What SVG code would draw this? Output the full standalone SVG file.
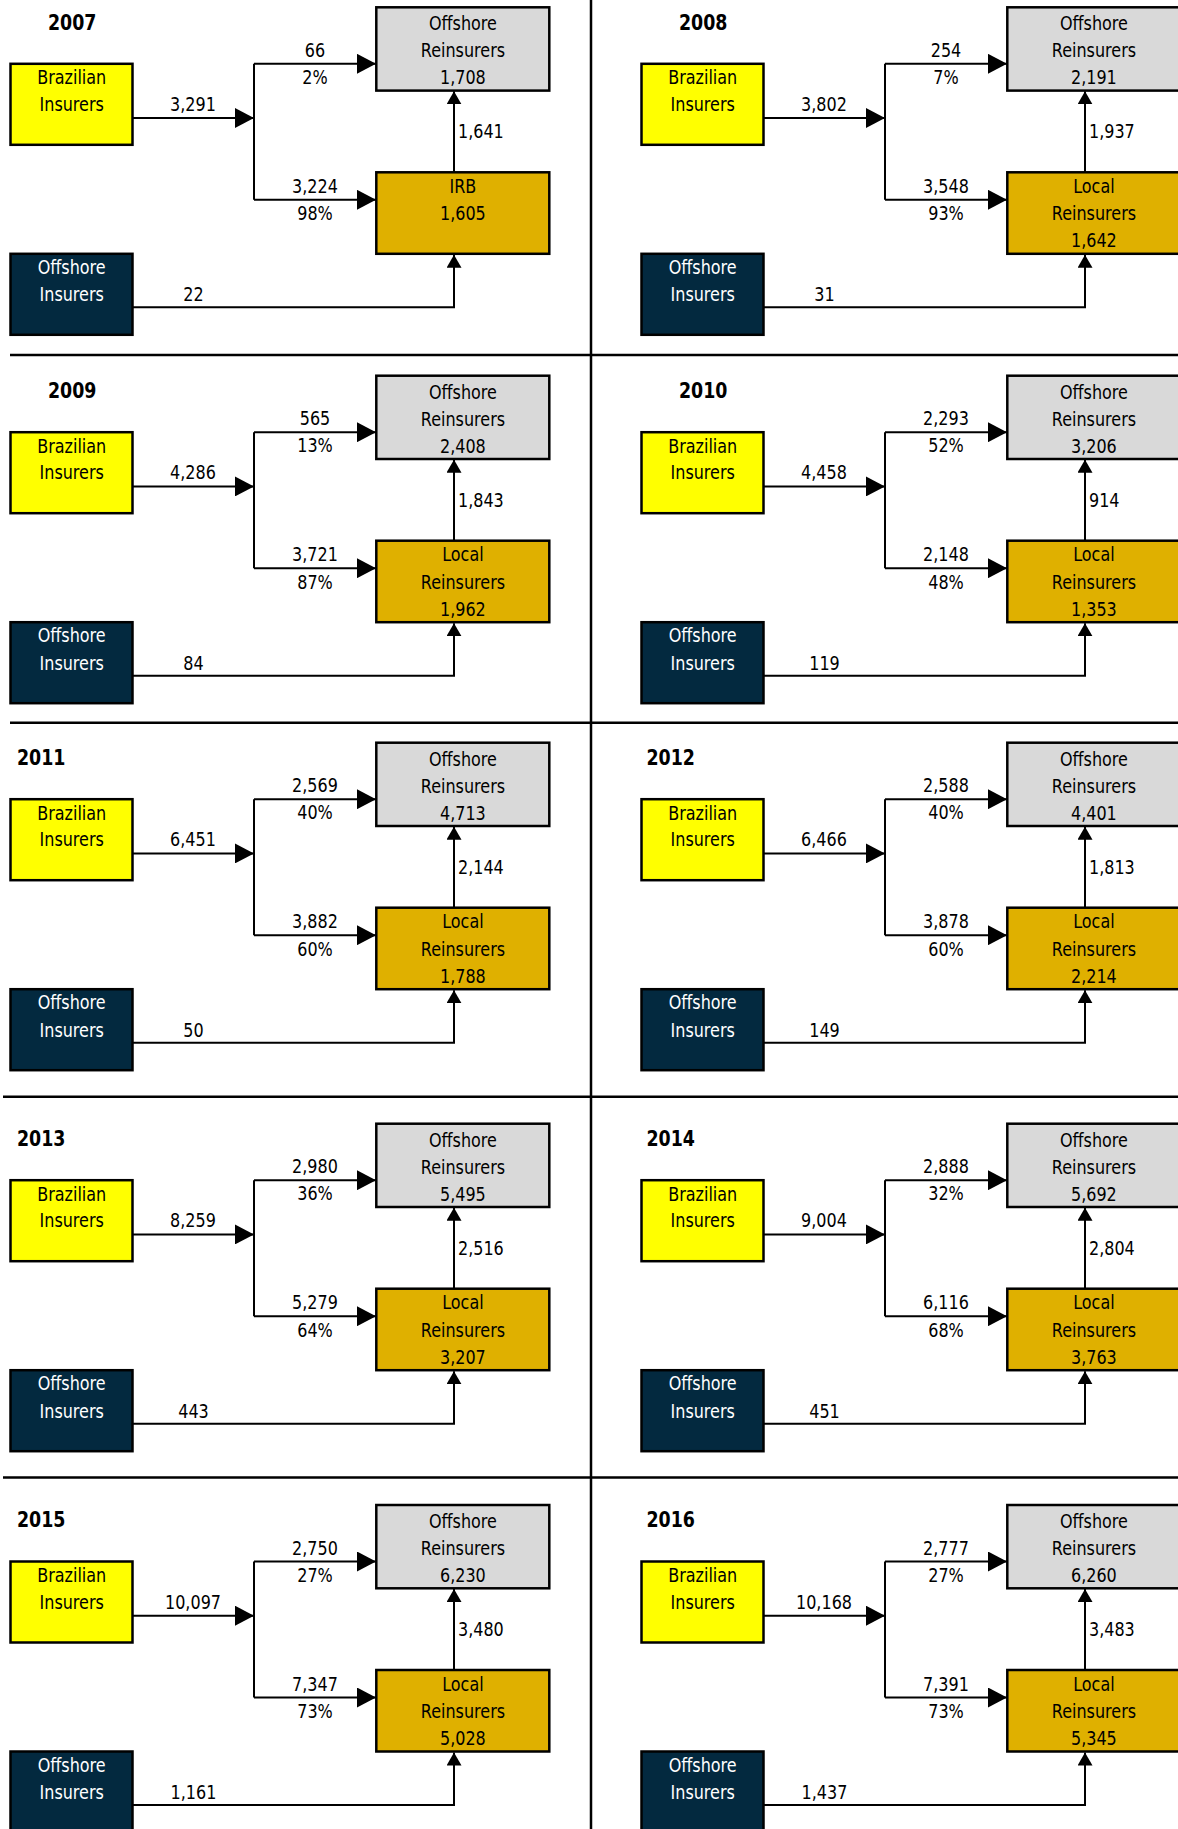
<svg xmlns="http://www.w3.org/2000/svg" width="1178" height="1829" viewBox="0 0 1178 1829">
<style>
.bg{fill:#ffffff}
.box{stroke:#000;stroke-width:2.5}
.br{fill:#ffff00}
.oi{fill:#03293f}
.or{fill:#d9d9d9}
.lr{fill:#dfb000}
.t{font-family:"DejaVu Sans","Liberation Sans",sans-serif;font-size:20px;text-anchor:middle;fill:#000}
.tl{font-family:"DejaVu Sans","Liberation Sans",sans-serif;font-size:20px;text-anchor:start;fill:#000}
.w{fill:#ffffff}
.yr{font-family:"DejaVu Sans","Liberation Sans",sans-serif;font-size:20.5px;font-weight:bold;fill:#000}
.ln{fill:none;stroke:#000;stroke-width:2}
.sep{stroke:#000;stroke-width:2.5;fill:none}
</style>
<defs>
<marker id="ah" markerUnits="userSpaceOnUse" viewBox="0 0 19 20" refX="19" refY="10" markerWidth="19" markerHeight="20" orient="auto"><path d="M0,0 L19,10 L0,20 z" fill="#000"/></marker>
<marker id="as" markerUnits="userSpaceOnUse" viewBox="0 0 13 15" refX="13" refY="7.5" markerWidth="13" markerHeight="15" orient="auto"><path d="M0,0 L13,7.5 L0,15 z" fill="#000"/></marker>
</defs>
<rect class="bg" x="0" y="0" width="1178" height="1829"/>
<g id="frame">
<path class="sep" d="M591,0 V1829"/>
<path class="sep" d="M10,355 H1178"/>
<path class="sep" d="M10,722.7 H1178"/>
<path class="sep" d="M3,1096.7 H1178"/>
<path class="sep" d="M3,1477.5 H1178"/>
</g>

<!-- 2007 -->
<g id="panel-2007" transform="translate(0,7.3)">
<text class="yr" transform="translate(48,22.5) scale(0.85,1)">2007</text>
<g id="n2007-brazilian"><rect class="box br" x="10.5" y="56.5" width="122" height="81"/><text class="t" transform="translate(71.7,77) scale(0.8,1)">Brazilian</text><text class="t" transform="translate(71.7,103.5) scale(0.8,1)">Insurers</text></g>
<g id="n2007-offins"><rect class="box oi" x="10.5" y="246.5" width="122" height="81"/><text class="t w" transform="translate(71.7,266.5) scale(0.8,1)">Offshore</text><text class="t w" transform="translate(71.7,294) scale(0.8,1)">Insurers</text></g>
<g id="n2007-offre"><rect class="box or" x="376.3" y="0" width="173" height="83.3"/><text class="t" transform="translate(462.9,23) scale(0.8,1)">Offshore</text><text class="t" transform="translate(462.9,50) scale(0.8,1)">Reinsurers</text><text class="t" transform="translate(462.9,77) scale(0.8,1)">1,708</text></g>
<g id="n2007-local"><rect class="box lr" x="376.3" y="165" width="173" height="81.5"/><text class="t" transform="translate(462.9,186) scale(0.8,1)">IRB</text><text class="t" transform="translate(462.9,213) scale(0.8,1)">1,605</text></g>
<g id="c2007">
<path class="ln" d="M132.5,110.7 H254" marker-end="url(#ah)"/>
<path class="ln" d="M254,56.5 V192.5"/>
<path class="ln" d="M254,56.5 H376" marker-end="url(#ah)"/>
<path class="ln" d="M254,192.5 H376" marker-end="url(#ah)"/>
<path class="ln" d="M454,165 V84" marker-end="url(#as)"/>
<path class="ln" d="M132.5,300 H454 V247.5" marker-end="url(#as)"/>
<text class="t" transform="translate(193,103.5) scale(0.8,1)">3,291</text>
<text class="t" transform="translate(315,49.5) scale(0.8,1)">66</text>
<text class="t" transform="translate(315,76.5) scale(0.8,1)">2%</text>
<text class="tl" transform="translate(458,131) scale(0.8,1)">1,641</text>
<text class="t" transform="translate(315,185.5) scale(0.8,1)">3,224</text>
<text class="t" transform="translate(315,213) scale(0.8,1)">98%</text>
<text class="t" transform="translate(193.5,294) scale(0.8,1)">22</text>
</g>
</g>

<!-- 2008 -->
<g id="panel-2008" transform="translate(631,7.3)">
<text class="yr" transform="translate(48,22.5) scale(0.85,1)">2008</text>
<g id="n2008-brazilian"><rect class="box br" x="10.5" y="56.5" width="122" height="81"/><text class="t" transform="translate(71.7,77) scale(0.8,1)">Brazilian</text><text class="t" transform="translate(71.7,103.5) scale(0.8,1)">Insurers</text></g>
<g id="n2008-offins"><rect class="box oi" x="10.5" y="246.5" width="122" height="81"/><text class="t w" transform="translate(71.7,266.5) scale(0.8,1)">Offshore</text><text class="t w" transform="translate(71.7,294) scale(0.8,1)">Insurers</text></g>
<g id="n2008-offre"><rect class="box or" x="376.3" y="0" width="173" height="83.3"/><text class="t" transform="translate(462.9,23) scale(0.8,1)">Offshore</text><text class="t" transform="translate(462.9,50) scale(0.8,1)">Reinsurers</text><text class="t" transform="translate(462.9,77) scale(0.8,1)">2,191</text></g>
<g id="n2008-local"><rect class="box lr" x="376.3" y="165" width="173" height="81.5"/><text class="t" transform="translate(462.9,185.5) scale(0.8,1)">Local</text><text class="t" transform="translate(462.9,213) scale(0.8,1)">Reinsurers</text><text class="t" transform="translate(462.9,240) scale(0.8,1)">1,642</text></g>
<g id="c2008">
<path class="ln" d="M132.5,110.7 H254" marker-end="url(#ah)"/>
<path class="ln" d="M254,56.5 V192.5"/>
<path class="ln" d="M254,56.5 H376" marker-end="url(#ah)"/>
<path class="ln" d="M254,192.5 H376" marker-end="url(#ah)"/>
<path class="ln" d="M454,165 V84" marker-end="url(#as)"/>
<path class="ln" d="M132.5,300 H454 V247.5" marker-end="url(#as)"/>
<text class="t" transform="translate(193,103.5) scale(0.8,1)">3,802</text>
<text class="t" transform="translate(315,49.5) scale(0.8,1)">254</text>
<text class="t" transform="translate(315,76.5) scale(0.8,1)">7%</text>
<text class="tl" transform="translate(458,131) scale(0.8,1)">1,937</text>
<text class="t" transform="translate(315,185.5) scale(0.8,1)">3,548</text>
<text class="t" transform="translate(315,213) scale(0.8,1)">93%</text>
<text class="t" transform="translate(193.5,294) scale(0.8,1)">31</text>
</g>
</g>

<!-- 2009 -->
<g id="panel-2009" transform="translate(0,375.7)">
<text class="yr" transform="translate(48,22) scale(0.85,1)">2009</text>
<g id="n2009-brazilian"><rect class="box br" x="10.5" y="56.5" width="122" height="81"/><text class="t" transform="translate(71.7,77) scale(0.8,1)">Brazilian</text><text class="t" transform="translate(71.7,103.5) scale(0.8,1)">Insurers</text></g>
<g id="n2009-offins"><rect class="box oi" x="10.5" y="246.5" width="122" height="81"/><text class="t w" transform="translate(71.7,266.5) scale(0.8,1)">Offshore</text><text class="t w" transform="translate(71.7,294) scale(0.8,1)">Insurers</text></g>
<g id="n2009-offre"><rect class="box or" x="376.3" y="0" width="173" height="83.3"/><text class="t" transform="translate(462.9,23) scale(0.8,1)">Offshore</text><text class="t" transform="translate(462.9,50) scale(0.8,1)">Reinsurers</text><text class="t" transform="translate(462.9,77) scale(0.8,1)">2,408</text></g>
<g id="n2009-local"><rect class="box lr" x="376.3" y="165" width="173" height="81.5"/><text class="t" transform="translate(462.9,185.5) scale(0.8,1)">Local</text><text class="t" transform="translate(462.9,213) scale(0.8,1)">Reinsurers</text><text class="t" transform="translate(462.9,240) scale(0.8,1)">1,962</text></g>
<g id="c2009">
<path class="ln" d="M132.5,110.7 H254" marker-end="url(#ah)"/>
<path class="ln" d="M254,56.5 V192.5"/>
<path class="ln" d="M254,56.5 H376" marker-end="url(#ah)"/>
<path class="ln" d="M254,192.5 H376" marker-end="url(#ah)"/>
<path class="ln" d="M454,165 V84" marker-end="url(#as)"/>
<path class="ln" d="M132.5,300 H454 V247.5" marker-end="url(#as)"/>
<text class="t" transform="translate(193,103.5) scale(0.8,1)">4,286</text>
<text class="t" transform="translate(315,49.5) scale(0.8,1)">565</text>
<text class="t" transform="translate(315,76.5) scale(0.8,1)">13%</text>
<text class="tl" transform="translate(458,131) scale(0.8,1)">1,843</text>
<text class="t" transform="translate(315,185.5) scale(0.8,1)">3,721</text>
<text class="t" transform="translate(315,213) scale(0.8,1)">87%</text>
<text class="t" transform="translate(193.5,294) scale(0.8,1)">84</text>
</g>
</g>

<!-- 2010 -->
<g id="panel-2010" transform="translate(631,375.7)">
<text class="yr" transform="translate(48,22) scale(0.85,1)">2010</text>
<g id="n2010-brazilian"><rect class="box br" x="10.5" y="56.5" width="122" height="81"/><text class="t" transform="translate(71.7,77) scale(0.8,1)">Brazilian</text><text class="t" transform="translate(71.7,103.5) scale(0.8,1)">Insurers</text></g>
<g id="n2010-offins"><rect class="box oi" x="10.5" y="246.5" width="122" height="81"/><text class="t w" transform="translate(71.7,266.5) scale(0.8,1)">Offshore</text><text class="t w" transform="translate(71.7,294) scale(0.8,1)">Insurers</text></g>
<g id="n2010-offre"><rect class="box or" x="376.3" y="0" width="173" height="83.3"/><text class="t" transform="translate(462.9,23) scale(0.8,1)">Offshore</text><text class="t" transform="translate(462.9,50) scale(0.8,1)">Reinsurers</text><text class="t" transform="translate(462.9,77) scale(0.8,1)">3,206</text></g>
<g id="n2010-local"><rect class="box lr" x="376.3" y="165" width="173" height="81.5"/><text class="t" transform="translate(462.9,185.5) scale(0.8,1)">Local</text><text class="t" transform="translate(462.9,213) scale(0.8,1)">Reinsurers</text><text class="t" transform="translate(462.9,240) scale(0.8,1)">1,353</text></g>
<g id="c2010">
<path class="ln" d="M132.5,110.7 H254" marker-end="url(#ah)"/>
<path class="ln" d="M254,56.5 V192.5"/>
<path class="ln" d="M254,56.5 H376" marker-end="url(#ah)"/>
<path class="ln" d="M254,192.5 H376" marker-end="url(#ah)"/>
<path class="ln" d="M454,165 V84" marker-end="url(#as)"/>
<path class="ln" d="M132.5,300 H454 V247.5" marker-end="url(#as)"/>
<text class="t" transform="translate(193,103.5) scale(0.8,1)">4,458</text>
<text class="t" transform="translate(315,49.5) scale(0.8,1)">2,293</text>
<text class="t" transform="translate(315,76.5) scale(0.8,1)">52%</text>
<text class="tl" transform="translate(458,131) scale(0.8,1)">914</text>
<text class="t" transform="translate(315,185.5) scale(0.8,1)">2,148</text>
<text class="t" transform="translate(315,213) scale(0.8,1)">48%</text>
<text class="t" transform="translate(193.5,294) scale(0.8,1)">119</text>
</g>
</g>

<!-- 2011 -->
<g id="panel-2011" transform="translate(0,742.7)">
<text class="yr" transform="translate(17,22) scale(0.85,1)">2011</text>
<g id="n2011-brazilian"><rect class="box br" x="10.5" y="56.5" width="122" height="81"/><text class="t" transform="translate(71.7,77) scale(0.8,1)">Brazilian</text><text class="t" transform="translate(71.7,103.5) scale(0.8,1)">Insurers</text></g>
<g id="n2011-offins"><rect class="box oi" x="10.5" y="246.5" width="122" height="81"/><text class="t w" transform="translate(71.7,266.5) scale(0.8,1)">Offshore</text><text class="t w" transform="translate(71.7,294) scale(0.8,1)">Insurers</text></g>
<g id="n2011-offre"><rect class="box or" x="376.3" y="0" width="173" height="83.3"/><text class="t" transform="translate(462.9,23) scale(0.8,1)">Offshore</text><text class="t" transform="translate(462.9,50) scale(0.8,1)">Reinsurers</text><text class="t" transform="translate(462.9,77) scale(0.8,1)">4,713</text></g>
<g id="n2011-local"><rect class="box lr" x="376.3" y="165" width="173" height="81.5"/><text class="t" transform="translate(462.9,185.5) scale(0.8,1)">Local</text><text class="t" transform="translate(462.9,213) scale(0.8,1)">Reinsurers</text><text class="t" transform="translate(462.9,240) scale(0.8,1)">1,788</text></g>
<g id="c2011">
<path class="ln" d="M132.5,110.7 H254" marker-end="url(#ah)"/>
<path class="ln" d="M254,56.5 V192.5"/>
<path class="ln" d="M254,56.5 H376" marker-end="url(#ah)"/>
<path class="ln" d="M254,192.5 H376" marker-end="url(#ah)"/>
<path class="ln" d="M454,165 V84" marker-end="url(#as)"/>
<path class="ln" d="M132.5,300 H454 V247.5" marker-end="url(#as)"/>
<text class="t" transform="translate(193,103.5) scale(0.8,1)">6,451</text>
<text class="t" transform="translate(315,49.5) scale(0.8,1)">2,569</text>
<text class="t" transform="translate(315,76.5) scale(0.8,1)">40%</text>
<text class="tl" transform="translate(458,131) scale(0.8,1)">2,144</text>
<text class="t" transform="translate(315,185.5) scale(0.8,1)">3,882</text>
<text class="t" transform="translate(315,213) scale(0.8,1)">60%</text>
<text class="t" transform="translate(193.5,294) scale(0.8,1)">50</text>
</g>
</g>

<!-- 2012 -->
<g id="panel-2012" transform="translate(631,742.7)">
<text class="yr" transform="translate(15.5,22) scale(0.85,1)">2012</text>
<g id="n2012-brazilian"><rect class="box br" x="10.5" y="56.5" width="122" height="81"/><text class="t" transform="translate(71.7,77) scale(0.8,1)">Brazilian</text><text class="t" transform="translate(71.7,103.5) scale(0.8,1)">Insurers</text></g>
<g id="n2012-offins"><rect class="box oi" x="10.5" y="246.5" width="122" height="81"/><text class="t w" transform="translate(71.7,266.5) scale(0.8,1)">Offshore</text><text class="t w" transform="translate(71.7,294) scale(0.8,1)">Insurers</text></g>
<g id="n2012-offre"><rect class="box or" x="376.3" y="0" width="173" height="83.3"/><text class="t" transform="translate(462.9,23) scale(0.8,1)">Offshore</text><text class="t" transform="translate(462.9,50) scale(0.8,1)">Reinsurers</text><text class="t" transform="translate(462.9,77) scale(0.8,1)">4,401</text></g>
<g id="n2012-local"><rect class="box lr" x="376.3" y="165" width="173" height="81.5"/><text class="t" transform="translate(462.9,185.5) scale(0.8,1)">Local</text><text class="t" transform="translate(462.9,213) scale(0.8,1)">Reinsurers</text><text class="t" transform="translate(462.9,240) scale(0.8,1)">2,214</text></g>
<g id="c2012">
<path class="ln" d="M132.5,110.7 H254" marker-end="url(#ah)"/>
<path class="ln" d="M254,56.5 V192.5"/>
<path class="ln" d="M254,56.5 H376" marker-end="url(#ah)"/>
<path class="ln" d="M254,192.5 H376" marker-end="url(#ah)"/>
<path class="ln" d="M454,165 V84" marker-end="url(#as)"/>
<path class="ln" d="M132.5,300 H454 V247.5" marker-end="url(#as)"/>
<text class="t" transform="translate(193,103.5) scale(0.8,1)">6,466</text>
<text class="t" transform="translate(315,49.5) scale(0.8,1)">2,588</text>
<text class="t" transform="translate(315,76.5) scale(0.8,1)">40%</text>
<text class="tl" transform="translate(458,131) scale(0.8,1)">1,813</text>
<text class="t" transform="translate(315,185.5) scale(0.8,1)">3,878</text>
<text class="t" transform="translate(315,213) scale(0.8,1)">60%</text>
<text class="t" transform="translate(193.5,294) scale(0.8,1)">149</text>
</g>
</g>

<!-- 2013 -->
<g id="panel-2013" transform="translate(0,1123.7)">
<text class="yr" transform="translate(17,22) scale(0.85,1)">2013</text>
<g id="n2013-brazilian"><rect class="box br" x="10.5" y="56.5" width="122" height="81"/><text class="t" transform="translate(71.7,77) scale(0.8,1)">Brazilian</text><text class="t" transform="translate(71.7,103.5) scale(0.8,1)">Insurers</text></g>
<g id="n2013-offins"><rect class="box oi" x="10.5" y="246.5" width="122" height="81"/><text class="t w" transform="translate(71.7,266.5) scale(0.8,1)">Offshore</text><text class="t w" transform="translate(71.7,294) scale(0.8,1)">Insurers</text></g>
<g id="n2013-offre"><rect class="box or" x="376.3" y="0" width="173" height="83.3"/><text class="t" transform="translate(462.9,23) scale(0.8,1)">Offshore</text><text class="t" transform="translate(462.9,50) scale(0.8,1)">Reinsurers</text><text class="t" transform="translate(462.9,77) scale(0.8,1)">5,495</text></g>
<g id="n2013-local"><rect class="box lr" x="376.3" y="165" width="173" height="81.5"/><text class="t" transform="translate(462.9,185.5) scale(0.8,1)">Local</text><text class="t" transform="translate(462.9,213) scale(0.8,1)">Reinsurers</text><text class="t" transform="translate(462.9,240) scale(0.8,1)">3,207</text></g>
<g id="c2013">
<path class="ln" d="M132.5,110.7 H254" marker-end="url(#ah)"/>
<path class="ln" d="M254,56.5 V192.5"/>
<path class="ln" d="M254,56.5 H376" marker-end="url(#ah)"/>
<path class="ln" d="M254,192.5 H376" marker-end="url(#ah)"/>
<path class="ln" d="M454,165 V84" marker-end="url(#as)"/>
<path class="ln" d="M132.5,300 H454 V247.5" marker-end="url(#as)"/>
<text class="t" transform="translate(193,103.5) scale(0.8,1)">8,259</text>
<text class="t" transform="translate(315,49.5) scale(0.8,1)">2,980</text>
<text class="t" transform="translate(315,76.5) scale(0.8,1)">36%</text>
<text class="tl" transform="translate(458,131) scale(0.8,1)">2,516</text>
<text class="t" transform="translate(315,185.5) scale(0.8,1)">5,279</text>
<text class="t" transform="translate(315,213) scale(0.8,1)">64%</text>
<text class="t" transform="translate(193.5,294) scale(0.8,1)">443</text>
</g>
</g>

<!-- 2014 -->
<g id="panel-2014" transform="translate(631,1123.7)">
<text class="yr" transform="translate(15.5,22) scale(0.85,1)">2014</text>
<g id="n2014-brazilian"><rect class="box br" x="10.5" y="56.5" width="122" height="81"/><text class="t" transform="translate(71.7,77) scale(0.8,1)">Brazilian</text><text class="t" transform="translate(71.7,103.5) scale(0.8,1)">Insurers</text></g>
<g id="n2014-offins"><rect class="box oi" x="10.5" y="246.5" width="122" height="81"/><text class="t w" transform="translate(71.7,266.5) scale(0.8,1)">Offshore</text><text class="t w" transform="translate(71.7,294) scale(0.8,1)">Insurers</text></g>
<g id="n2014-offre"><rect class="box or" x="376.3" y="0" width="173" height="83.3"/><text class="t" transform="translate(462.9,23) scale(0.8,1)">Offshore</text><text class="t" transform="translate(462.9,50) scale(0.8,1)">Reinsurers</text><text class="t" transform="translate(462.9,77) scale(0.8,1)">5,692</text></g>
<g id="n2014-local"><rect class="box lr" x="376.3" y="165" width="173" height="81.5"/><text class="t" transform="translate(462.9,185.5) scale(0.8,1)">Local</text><text class="t" transform="translate(462.9,213) scale(0.8,1)">Reinsurers</text><text class="t" transform="translate(462.9,240) scale(0.8,1)">3,763</text></g>
<g id="c2014">
<path class="ln" d="M132.5,110.7 H254" marker-end="url(#ah)"/>
<path class="ln" d="M254,56.5 V192.5"/>
<path class="ln" d="M254,56.5 H376" marker-end="url(#ah)"/>
<path class="ln" d="M254,192.5 H376" marker-end="url(#ah)"/>
<path class="ln" d="M454,165 V84" marker-end="url(#as)"/>
<path class="ln" d="M132.5,300 H454 V247.5" marker-end="url(#as)"/>
<text class="t" transform="translate(193,103.5) scale(0.8,1)">9,004</text>
<text class="t" transform="translate(315,49.5) scale(0.8,1)">2,888</text>
<text class="t" transform="translate(315,76.5) scale(0.8,1)">32%</text>
<text class="tl" transform="translate(458,131) scale(0.8,1)">2,804</text>
<text class="t" transform="translate(315,185.5) scale(0.8,1)">6,116</text>
<text class="t" transform="translate(315,213) scale(0.8,1)">68%</text>
<text class="t" transform="translate(193.5,294) scale(0.8,1)">451</text>
</g>
</g>

<!-- 2015 -->
<g id="panel-2015" transform="translate(0,1505)">
<text class="yr" transform="translate(17,22) scale(0.85,1)">2015</text>
<g id="n2015-brazilian"><rect class="box br" x="10.5" y="56.5" width="122" height="81"/><text class="t" transform="translate(71.7,77) scale(0.8,1)">Brazilian</text><text class="t" transform="translate(71.7,103.5) scale(0.8,1)">Insurers</text></g>
<g id="n2015-offins"><rect class="box oi" x="10.5" y="246.5" width="122" height="81"/><text class="t w" transform="translate(71.7,266.5) scale(0.8,1)">Offshore</text><text class="t w" transform="translate(71.7,294) scale(0.8,1)">Insurers</text></g>
<g id="n2015-offre"><rect class="box or" x="376.3" y="0" width="173" height="83.3"/><text class="t" transform="translate(462.9,23) scale(0.8,1)">Offshore</text><text class="t" transform="translate(462.9,50) scale(0.8,1)">Reinsurers</text><text class="t" transform="translate(462.9,77) scale(0.8,1)">6,230</text></g>
<g id="n2015-local"><rect class="box lr" x="376.3" y="165" width="173" height="81.5"/><text class="t" transform="translate(462.9,185.5) scale(0.8,1)">Local</text><text class="t" transform="translate(462.9,213) scale(0.8,1)">Reinsurers</text><text class="t" transform="translate(462.9,240) scale(0.8,1)">5,028</text></g>
<g id="c2015">
<path class="ln" d="M132.5,110.7 H254" marker-end="url(#ah)"/>
<path class="ln" d="M254,56.5 V192.5"/>
<path class="ln" d="M254,56.5 H376" marker-end="url(#ah)"/>
<path class="ln" d="M254,192.5 H376" marker-end="url(#ah)"/>
<path class="ln" d="M454,165 V84" marker-end="url(#as)"/>
<path class="ln" d="M132.5,300 H454 V247.5" marker-end="url(#as)"/>
<text class="t" transform="translate(193,103.5) scale(0.8,1)">10,097</text>
<text class="t" transform="translate(315,49.5) scale(0.8,1)">2,750</text>
<text class="t" transform="translate(315,76.5) scale(0.8,1)">27%</text>
<text class="tl" transform="translate(458,131) scale(0.8,1)">3,480</text>
<text class="t" transform="translate(315,185.5) scale(0.8,1)">7,347</text>
<text class="t" transform="translate(315,213) scale(0.8,1)">73%</text>
<text class="t" transform="translate(193.5,294) scale(0.8,1)">1,161</text>
</g>
</g>

<!-- 2016 -->
<g id="panel-2016" transform="translate(631,1505)">
<text class="yr" transform="translate(15.5,22) scale(0.85,1)">2016</text>
<g id="n2016-brazilian"><rect class="box br" x="10.5" y="56.5" width="122" height="81"/><text class="t" transform="translate(71.7,77) scale(0.8,1)">Brazilian</text><text class="t" transform="translate(71.7,103.5) scale(0.8,1)">Insurers</text></g>
<g id="n2016-offins"><rect class="box oi" x="10.5" y="246.5" width="122" height="81"/><text class="t w" transform="translate(71.7,266.5) scale(0.8,1)">Offshore</text><text class="t w" transform="translate(71.7,294) scale(0.8,1)">Insurers</text></g>
<g id="n2016-offre"><rect class="box or" x="376.3" y="0" width="173" height="83.3"/><text class="t" transform="translate(462.9,23) scale(0.8,1)">Offshore</text><text class="t" transform="translate(462.9,50) scale(0.8,1)">Reinsurers</text><text class="t" transform="translate(462.9,77) scale(0.8,1)">6,260</text></g>
<g id="n2016-local"><rect class="box lr" x="376.3" y="165" width="173" height="81.5"/><text class="t" transform="translate(462.9,185.5) scale(0.8,1)">Local</text><text class="t" transform="translate(462.9,213) scale(0.8,1)">Reinsurers</text><text class="t" transform="translate(462.9,240) scale(0.8,1)">5,345</text></g>
<g id="c2016">
<path class="ln" d="M132.5,110.7 H254" marker-end="url(#ah)"/>
<path class="ln" d="M254,56.5 V192.5"/>
<path class="ln" d="M254,56.5 H376" marker-end="url(#ah)"/>
<path class="ln" d="M254,192.5 H376" marker-end="url(#ah)"/>
<path class="ln" d="M454,165 V84" marker-end="url(#as)"/>
<path class="ln" d="M132.5,300 H454 V247.5" marker-end="url(#as)"/>
<text class="t" transform="translate(193,103.5) scale(0.8,1)">10,168</text>
<text class="t" transform="translate(315,49.5) scale(0.8,1)">2,777</text>
<text class="t" transform="translate(315,76.5) scale(0.8,1)">27%</text>
<text class="tl" transform="translate(458,131) scale(0.8,1)">3,483</text>
<text class="t" transform="translate(315,185.5) scale(0.8,1)">7,391</text>
<text class="t" transform="translate(315,213) scale(0.8,1)">73%</text>
<text class="t" transform="translate(193.5,294) scale(0.8,1)">1,437</text>
</g>
</g>
</svg>
